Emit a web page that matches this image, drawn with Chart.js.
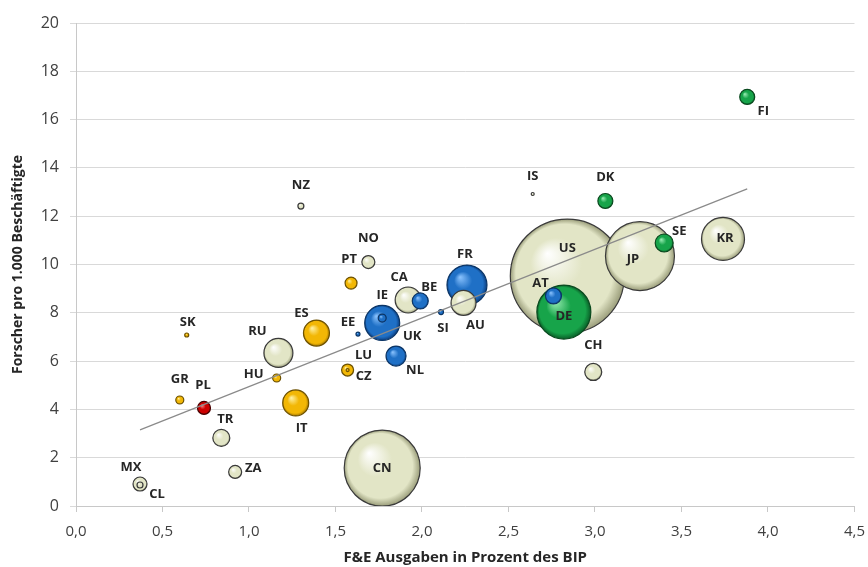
<!DOCTYPE html>
<html>
<head>
<meta charset="utf-8">
<script src="https://cdn.jsdelivr.net/npm/chart.js@4.4.1/dist/chart.umd.min.js"></script>
<style>
  html, body { margin: 0; padding: 0; background: #fff; }
  #wrap { width: 868px; height: 567px; }
</style>
</head>
<body>
<div id="wrap"><canvas id="myChart" width="868" height="567"></canvas></div>
<script>
// country codes and values
const countries = ['FI','IS','DK','NZ','NO','PT','CA','BE','FR','AU','SI','IE','UK','EE','ES','RU','SK','HU','LU','CZ','NL','IT','GR','PL','TR','ZA','MX','CL','CN','US','AT','DE','JP','SE','KR','CH'];
// F&E Ausgaben in % des BIP
const rdShare = [3.88,2.64,3.06,1.30,1.69,1.59,1.92,1.99,2.26,2.24,2.11,1.77,1.77,1.63,1.39,1.17,0.64,1.16,1.57,1.57,1.85,1.27,0.60,0.74,0.84,0.92,0.37,0.37,1.77,2.84,2.76,2.82,3.26,3.40,3.74,2.99];
// Forscher pro 1.000 Beschäftigte
const researchers = [16.94,12.92,12.63,12.42,10.10,9.23,8.53,8.49,9.15,8.41,8.03,7.78,7.58,7.12,7.16,6.34,7.08,5.30,5.63,5.63,6.21,4.27,4.39,4.06,2.82,1.41,0.91,0.87,1.57,9.52,8.70,8.03,10.35,10.89,11.06,5.55];
// bubble size
const bubbleSize = [7.5,1.5,7.5,3,6.5,6,13,8,20,12.5,2.5,4,17.5,2,13,14.5,2,4,1.5,6,10,13,4,6.5,8.5,6.5,7,3,38,57,8,27,34.5,9,21.5,8.5];
// group: c = other, g = green, b = blue, y = yellow, r = red
const groups = ['g','c','g','c','c','y','c','b','b','c','b','b','b','b','y','c','y','y','y','y','b','y','y','r','c','c','c','c','c','c','b','g','c','g','c','c'];

const trendX = [0.37, 3.88];
const trendY = [3.15, 13.13];

const xTickLabels = ['0,0','0,5','1,0','1,5','2,0','2,5','3,0','3,5','4,0','4,5'];

// label placement relative to bubble centre (px)
const labelOffset = {
  FI:[16,14], IS:[0,-18], DK:[0,-24], NZ:[0,-21], NO:[0,-24], PT:[-2,-24], CA:[-9,-23], BE:[9,-14],
  FR:[-2,-31], AU:[12,22], SI:[2,16], IE:[0,-23], UK:[30,13], EE:[-10,-12], ES:[-15,-20], RU:[-21,-22],
  SK:[1,-13], HU:[-23,-4], LU:[16,-15], CZ:[16,6], NL:[19,14], IT:[6,25], GR:[0,-21], PL:[-1,-23],
  TR:[4,-19], ZA:[18,-4], MX:[-9,-17], CL:[17,9], CN:[0,0], US:[0,-28], AT:[-13,-13], DE:[0,4],
  JP:[-7,3], SE:[15,-12], KR:[2,-1], CH:[0,-27]
};

const palette = {
  c: { hi: '#ffffff', mid: '#e2e5c6', lo: '#9a9d7a', border: '#3a3a3a' },
  g: { hi: '#9ff0b8', mid: '#17a44a', lo: '#0a5f28', border: '#0a4a1f' },
  b: { hi: '#8cc4ff', mid: '#1f70c6', lo: '#0c3f80', border: '#0b3566' },
  y: { hi: '#fff3a8', mid: '#f2b705', lo: '#a87a00', border: '#6e5200' },
  r: { hi: '#ff9090', mid: '#cc0000', lo: '#700000', border: '#4a0000' }
};

const points = countries.map((c, i) => ({ x: rdShare[i], y: researchers[i], r: bubbleSize[i], code: c, grp: groups[i] }));
points.sort((a, b) => b.r - a.r); // big ones behind

const FONT = '"Open Sans", "Liberation Sans", sans-serif';

const bubbleFill = (ctx) => {
  const p = ctx.raw;
  if (!p) return '#ccc';
  const pal = palette[p.grp];
  const chart = ctx.chart;
  const px = chart.scales.x.getPixelForValue(p.x);
  const py = chart.scales.y.getPixelForValue(p.y);
  if (!isFinite(px) || !isFinite(py)) return pal.mid;
  const g = chart.ctx.createRadialGradient(px - p.r * 0.35, py - p.r * 0.4, 0, px, py, p.r);
  g.addColorStop(0, pal.hi);
  g.addColorStop(0.45, pal.mid);
  g.addColorStop(0.85, pal.mid);
  g.addColorStop(1, pal.lo);
  return g;
};

const labelPlugin = {
  id: 'countryLabels',
  afterDatasetsDraw(chart) {
    const ctx = chart.ctx;
    ctx.save();
    ctx.font = 'bold 13px ' + FONT;
    ctx.fillStyle = '#262626';
    ctx.textAlign = 'center';
    ctx.textBaseline = 'middle';
    points.forEach(p => {
      const off = labelOffset[p.code] || [0, -14];
      const px = chart.scales.x.getPixelForValue(p.x);
      const py = chart.scales.y.getPixelForValue(p.y);
      ctx.fillText(p.code, px + off[0], py + off[1]);
    });
    ctx.restore();
  }
};

const ctx = document.getElementById('myChart').getContext('2d');
new Chart(ctx, {
  type: 'bubble',
  data: {
    datasets: [
      {
        type: 'line',
        data: trendX.map((x, i) => ({ x: x, y: trendY[i] })),
        borderColor: '#8a8a8a',
        borderWidth: 1.2,
        pointRadius: 0,
        fill: false,
        order: 0
      },
      {
        data: points,
        backgroundColor: bubbleFill,
        borderColor: (c) => c.raw ? palette[c.raw.grp].border : '#333',
        borderWidth: 1.2,
        order: 1
      }
    ]
  },
  options: {
    responsive: false,
    animation: false,
    layout: { autoPadding: false, padding: { left: 0, right: 13, top: 23, bottom: 0 } },
    plugins: {
      legend: { display: false },
      tooltip: { enabled: false }
    },
    scales: {
      x: {
        type: 'linear',
        min: 0,
        max: 4.5,
        afterFit: (s) => { s.height = 61; },
        ticks: {
          stepSize: 0.5,
          color: '#404040',
          font: { family: FONT, size: 15, lineHeight: 2.2 },
          padding: 3,
          callback: (v) => xTickLabels[Math.round(v * 2)]
        },
        grid: { drawOnChartArea: false, drawTicks: true, tickLength: 6, color: '#c8c8c8' },
        border: { color: '#c8c8c8' },
        title: {
          display: true,
          text: 'F&E Ausgaben in Prozent des BIP',
          color: '#262626',
          font: { family: FONT, size: 15, weight: 'bold' },
          padding: { top: 0, bottom: 0 }
        }
      },
      y: {
        min: 0,
        max: 20,
        afterFit: (s) => { s.width = 76; },
        ticks: {
          stepSize: 2,
          color: '#404040',
          font: { family: FONT, size: 16 },
          padding: 11
        },
        grid: { color: '#d9d9d9', tickLength: 6 },
        border: { color: '#c8c8c8' },
        title: {
          display: true,
          text: 'Forscher pro 1.000 Beschäftigte',
          color: '#262626',
          font: { family: FONT, size: 14, weight: 'bold' },
          padding: { top: 10, bottom: 0 }
        }
      }
    }
  },
  plugins: [labelPlugin]
});
</script>
</body>
</html>
